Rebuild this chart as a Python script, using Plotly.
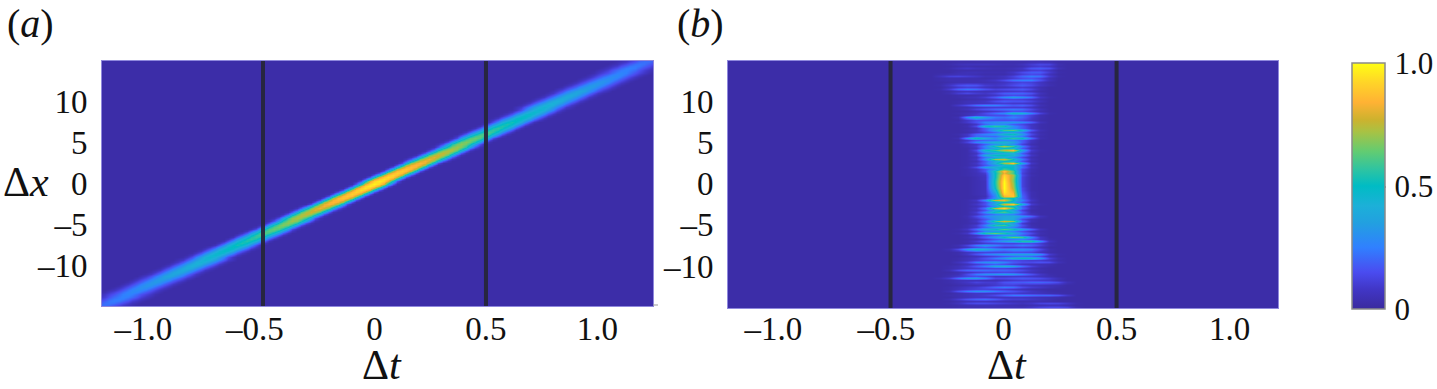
import numpy as np
import plotly.graph_objects as go

W, H = 1437, 389
FONT = "Liberation Serif"
FS = 33
BG = 2  # background level in percent of full scale

# Panel (a): band read across its width (percent): band centre first, then outward, one column per entry.
# One row per 0.25 in |dx|, from dx = 0 to 15. The band is treated as symmetric about the origin and its own ridge.
a_band_half = [
    [98,93,79,46,17,3,0],[97,92,79,46,16,3,0],[95,90,77,45,16,3,0],[94,89,76,44,16,3,0],[92,87,75,43,16,3,0],
    [91,86,74,43,15,3,0],[90,86,73,42,15,3,0],[89,85,72,42,15,3,0],[87,83,70,41,15,3,0],[86,82,70,40,15,3,0],
    [85,81,69,40,14,3,0],[83,78,65,42,18,6,1],[82,77,64,41,18,6,1],[80,75,62,40,18,6,1],[78,73,61,39,17,5,1],
    [76,71,59,38,17,5,1],[74,70,58,37,16,5,1],[73,69,57,37,16,5,1],[71,67,55,36,16,5,1],[69,65,54,35,15,5,1],
    [68,64,53,34,15,5,1],[66,62,51,33,15,5,1],[65,61,51,33,14,5,1],[63,59,48,33,18,7,2],[62,58,47,32,18,7,2],
    [60,56,46,31,17,7,2],[58,54,44,30,17,6,2],[57,53,43,30,17,6,2],[55,51,42,29,16,6,2],[54,50,41,28,16,6,2],
    [53,49,40,28,15,6,2],[51,47,38,28,17,8,3],[50,47,38,27,17,8,3],[49,46,37,26,16,8,3],[48,45,36,26,16,8,3],
    [47,44,35,25,16,8,3],[46,43,35,25,15,7,3],[45,42,34,26,17,9,5],[44,41,33,25,17,9,4],[43,40,33,25,16,9,4],
    [42,39,32,24,16,9,4],[41,38,31,23,16,9,4],[40,37,30,23,15,8,4],[39,36,30,22,15,8,4],[38,35,29,22,14,8,4],
    [37,35,29,22,15,9,5],[35,33,27,21,14,9,5],[34,32,27,20,14,9,4],[33,31,26,19,14,8,4],[32,30,25,19,13,8,4],
    [31,29,24,18,13,8,4],[30,28,23,18,12,8,4],[29,27,23,17,12,7,4],[28,26,22,17,12,8,4],[27,25,21,16,12,8,4],
    [26,24,21,16,11,7,4],[25,24,20,15,11,7,4],[24,23,19,15,10,7,4],[23,22,18,14,10,6,4],[22,21,17,13,9,6,4],
    [21,20,17,13,9,6,3],
]
a_dx = [-15 + 0.25 * i for i in range(121)]
a_t_step = 0.02049  # ridge column step: the band rises 12.2 in dx per unit dt
a_t = [(k - 66) * a_t_step for k in range(133)]

# Panel (b): streak values (percent), top row (dx = 15) first.
b_dx = [15 - 0.25 * i for i in range(121)]
b_t = [-0.28 + 0.04 * k for k in range(16)]
b_rows = [
    [2,2,2,2,3,3,3,3,3,3,3,3,2,2,2,2],[2,2,3,3,3,3,3,3,3,3,5,6,5,2,2,2],[2,3,5,6,6,6,5,4,4,6,10,13,12,4,2,2],
    [2,2,3,4,3,3,3,3,3,4,8,10,8,3,2,2],[2,3,6,8,6,5,4,4,5,8,16,18,15,5,2,2],[2,2,3,3,3,3,3,3,4,6,10,11,7,2,2,2],
    [2,2,4,5,5,4,4,4,8,14,18,18,10,3,2,2],[3,4,5,5,4,3,3,3,6,11,14,13,6,2,2,2],[6,11,12,10,8,5,5,7,12,20,24,22,10,3,2,2],
    [3,4,4,4,4,3,4,6,10,14,16,12,5,2,2,2],[3,4,4,4,4,5,8,14,22,25,25,16,6,2,2,2],[2,3,4,4,4,4,5,7,10,12,11,7,3,2,2,2],
    [3,8,14,17,16,10,8,10,14,18,14,8,4,2,2,2],[2,5,9,11,10,7,5,6,8,10,8,4,2,2,2,2],[3,10,20,24,22,16,12,14,16,18,13,5,2,2,2,2],
    [2,3,6,7,6,5,6,8,9,10,7,3,2,2,2,2],[2,4,10,13,10,8,12,18,20,20,16,6,2,2,2,2],[2,2,3,3,4,5,8,12,14,13,10,4,2,2,2,2],
    [2,2,3,5,6,10,18,28,34,30,22,8,3,2,2,2],[2,2,2,3,4,5,8,11,12,11,8,4,2,2,2,2],[2,2,3,5,6,8,14,18,16,16,12,6,2,2,2,2],
    [2,2,3,5,6,7,9,10,9,9,7,3,2,2,2,2],[2,2,8,14,22,26,26,22,18,20,14,5,2,2,2,2],[2,2,3,4,7,9,10,10,10,10,7,3,2,2,2,2],
    [2,2,3,6,12,16,20,22,24,22,14,6,2,2,2,2],[2,2,2,3,5,7,9,12,16,15,10,4,2,2,2,2],[2,2,3,5,8,14,22,28,46,42,26,12,3,2,2,2],
    [2,2,2,5,10,12,14,14,20,18,11,4,2,2,2,2],[2,2,4,28,46,34,24,22,26,20,10,4,2,2,2,2],[2,2,2,8,14,16,16,15,16,13,8,3,2,2,2,2],
    [2,2,3,9,16,26,30,32,32,28,20,6,2,2,2,2],[2,2,2,3,8,20,26,26,18,13,7,3,2,2,2,2],[2,2,2,4,14,46,56,52,30,18,8,3,2,2,2,2],
    [2,2,2,3,6,18,30,34,28,18,8,3,2,2,2,2],[2,2,2,4,8,18,36,58,62,44,18,5,2,2,2,2],[2,2,2,3,7,13,20,30,34,24,9,3,2,2,2,2],
    [2,2,3,8,20,26,32,46,52,34,14,4,2,2,2,2],[2,2,2,8,20,20,20,30,34,24,9,3,2,2,2,2],[2,2,4,28,52,40,30,46,56,50,22,4,2,2,2,2],
    [2,2,2,8,16,20,22,28,26,18,7,2,2,2,2,2],[2,2,3,12,26,34,44,44,36,18,6,2,2,2,2,2],[2,2,2,4,8,18,30,36,28,12,4,2,2,2,2,2],
    [2,2,2,4,10,28,54,72,58,26,8,2,2,2,2,2],[2,2,2,3,7,24,38,50,42,18,5,2,2,2,2,2],[2,2,2,3,14,46,58,74,84,38,10,3,2,2,2,2],
    [2,2,2,3,7,24,34,40,42,18,5,2,2,2,2,2],[2,2,2,3,10,40,50,50,44,26,8,2,2,2,2,2],[2,2,2,3,6,22,36,42,30,14,4,2,2,2,2,2],
    [2,2,2,3,8,30,70,76,50,24,6,2,2,2,2,2],[2,2,2,3,5,18,38,50,42,16,4,2,2,2,2,2],[2,2,2,3,8,20,42,70,86,38,8,2,2,2,2,2],
    [2,2,2,3,6,16,30,44,46,18,4,2,2,2,2,2],[2,2,2,4,14,34,44,50,48,22,6,2,2,2,2,2],[2,2,2,3,6,16,36,60,48,14,4,2,2,2,2,2],
    [2,2,2,3,6,16,52,88,60,14,4,2,2,2,2,2],[2,2,2,3,5,10,50,82,60,12,3,2,2,2,2,2],[2,2,2,3,5,8,50,92,72,14,4,2,2,2,2,2],
    [2,2,2,2,4,7,50,95,70,12,3,2,2,2,2,2],[2,2,2,2,4,7,52,97,68,12,3,2,2,2,2,2],[2,2,2,2,4,6,54,99,68,12,3,2,2,2,2,2],
    [2,2,2,2,4,6,54,100,70,12,3,2,2,2,2,2],[2,2,2,2,4,6,52,100,72,12,3,2,2,2,2,2],[2,2,2,2,4,6,50,100,74,14,3,2,2,2,2,2],
    [2,2,2,2,4,6,44,98,78,14,3,2,2,2,2,2],[2,2,2,2,4,6,38,96,82,16,4,2,2,2,2,2],[2,2,2,2,4,6,32,92,86,18,4,2,2,2,2,2],
    [2,2,2,2,3,5,28,84,88,20,4,2,2,2,2,2],[2,2,2,2,3,8,30,56,50,20,5,2,2,2,2,2],[2,2,2,3,8,28,76,82,50,26,8,2,2,2,2,2],
    [2,2,2,3,5,14,34,50,42,18,5,2,2,2,2,2],[2,2,2,3,8,16,40,78,88,42,10,3,2,2,2,2],[2,2,2,3,5,12,30,54,50,18,4,2,2,2,2,2],
    [2,2,2,3,8,24,74,92,60,22,5,2,2,2,2,2],[2,2,2,3,6,16,40,50,36,12,3,2,2,2,2,2],[2,2,2,3,10,28,52,60,44,18,4,2,2,2,2,2],
    [2,2,2,3,7,17,24,30,26,14,6,2,2,2,2,2],[2,2,2,4,14,26,34,38,40,30,20,6,2,2,2,2],[2,2,2,3,7,16,30,40,38,14,5,2,2,2,2,2],
    [2,2,2,3,8,22,58,78,68,22,5,2,2,2,2,2],[2,2,2,3,5,16,34,44,34,10,3,2,2,2,2,2],[2,2,2,4,10,26,54,60,38,16,4,2,2,2,2,2],
    [2,2,2,4,9,20,30,36,26,12,5,2,2,2,2,2],[2,2,3,8,22,40,48,62,52,34,20,6,2,2,2,2],[2,2,2,4,12,26,32,32,26,16,8,3,2,2,2,2],
    [2,2,3,8,26,54,64,54,40,24,14,4,2,2,2,2],[2,2,2,3,7,14,20,26,28,18,9,3,2,2,2,2],[2,2,2,4,10,20,32,50,64,58,28,8,2,2,2,2],
    [2,2,2,3,5,10,17,22,24,26,18,8,3,2,2,2],[2,2,2,4,10,18,26,34,42,54,54,30,6,2,2,2],[2,2,2,3,6,10,12,12,12,14,14,10,3,2,2,2],
    [2,2,4,12,24,32,26,20,20,24,20,12,4,2,2,2],[2,2,3,8,14,18,14,10,10,12,10,6,2,2,2,2],[2,4,14,32,46,40,30,26,30,30,26,14,4,2,2,2],
    [2,2,3,7,10,12,12,12,14,14,13,7,3,2,2,2],[2,2,3,8,16,24,30,34,36,36,36,30,10,3,2,2],[2,2,2,4,6,9,12,16,20,22,20,14,5,2,2,2],
    [2,2,3,6,10,16,24,32,44,48,46,32,12,4,2,2],[2,2,3,6,10,13,14,14,14,12,10,10,7,3,2,2],[2,2,6,12,24,30,32,26,18,14,14,16,14,5,2,2],
    [2,2,3,6,10,14,18,15,11,8,6,5,4,2,2,2],[2,3,5,10,18,26,38,42,36,22,12,6,3,2,2,2],[2,3,5,8,10,11,12,12,10,8,5,3,2,2,2,2],
    [2,5,14,20,22,22,20,20,18,14,8,4,2,2,2,2],[2,2,4,7,10,12,12,13,12,9,6,3,2,2,2,2],[2,3,5,14,24,30,32,34,32,24,16,8,3,2,2,2],
    [2,4,8,12,14,12,8,8,9,9,8,6,4,2,2,2],[4,10,22,32,34,26,14,14,16,18,16,14,10,5,2,2],[2,3,5,6,6,5,5,7,9,10,10,9,8,4,2,2],
    [2,3,5,8,12,10,10,16,18,18,20,20,18,14,5,2],[2,2,3,4,5,6,9,11,11,8,7,6,5,4,2,2],[2,3,5,8,10,14,20,24,22,14,10,8,5,3,2,2],
    [2,3,6,9,11,12,11,10,8,6,4,3,2,2,2,2],[2,5,16,24,30,30,24,20,16,12,8,5,3,2,2,2],[2,2,4,6,8,8,8,9,10,8,7,6,4,3,2,2],
    [2,3,4,6,8,10,14,20,24,24,22,20,20,16,8,2],[2,2,4,6,8,8,7,7,7,7,6,5,4,3,2,2],[2,4,10,16,20,22,18,12,10,10,8,6,4,2,2,2],
    [2,2,4,6,7,7,6,5,4,4,4,4,3,2,2,2],[2,3,6,12,14,14,12,10,8,6,8,12,13,12,8,3],[2,2,3,4,5,5,5,4,4,3,4,5,6,6,4,2],
    [2,2,3,4,4,5,5,5,5,5,8,12,14,14,12,4],
]

marker_t = [-0.5, 0.5]
x_ticks = [-1.0, -0.5, 0, 0.5, 1.0]
a_xlabels = ["–1.0\u00a0\u00a0", "–0.5\u00a0\u00a0", "0", "0.5", "1.0"]
b_xlabels = ["–1.0\u00a0", "–0.5\u00a0", "0", "0.5", "1.0"]
y_ticks = [-10, -5, 0, 5, 10]
y_labels = ["–10", "–5", "0", "5", "10"]
cbar_ticks = [0, 0.5, 1]
cbar_labels = ["0", "0.5", "1.0"]

colorscale = [
    [0, "#3a2a9e"], [0.08, "#4136c6"], [0.15, "#4a4cf0"], [0.25, "#3080ff"], [0.35, "#22a0e0"],
    [0.42, "#1cb0d8"], [0.5, "#00bcc4"], [0.57, "#30c4a0"], [0.64, "#62cc72"], [0.72, "#a8c244"],
    [0.77, "#cdb22e"], [0.84, "#ffb234"], [0.92, "#ffd428"], [1, "#ffff14"],
]

# Expand the tables into the full grids
a_z = np.full((len(a_dx), len(a_t)), BG / 100)
for i in range(len(a_dx)):
    half = a_band_half[abs(i - 60)]
    profile = half[:0:-1] + half
    a_z[i, i: i + 13] = np.maximum(np.array(profile) / 100, BG / 100)

b_t_full = [-1.3, -0.32] + b_t + [0.36, 1.3]
b_z = [[BG / 100, BG / 100] + [v / 100 for v in row] + [BG / 100, BG / 100] for row in b_rows]


def px(x):
    return x / W


def py(y):
    return 1 - y / H


fig = go.Figure()
fig.add_trace(go.Heatmap(x=a_t, y=a_dx, z=a_z, coloraxis="coloraxis", zsmooth="best", xaxis="x", yaxis="y", hoverinfo="skip"))
fig.add_trace(go.Heatmap(x=b_t_full, y=b_dx, z=b_z, coloraxis="coloraxis", zsmooth="best", xaxis="x2", yaxis="y2", hoverinfo="skip"))

LINE = "rgba(38,38,58,0.95)"
shapes = []
for xref, yref in (("x", "y"), ("x2", "y2")):
    for t in marker_t:
        shapes.append(dict(type="line", xref=xref, yref=f"{yref} domain", x0=t, x1=t, y0=0, y1=1,
                           line=dict(color=LINE, width=4), layer="above"))
shapes.append(dict(type="line", xref="paper", yref="paper", x0=px(653), x1=px(658), y0=py(305), y1=py(305),
                   line=dict(color="#999999", width=1)))
shapes.append(dict(type="line", xref="paper", yref="paper", x0=px(1383), x1=px(1386), y0=py(187), y1=py(187),
                   line=dict(color="#444444", width=1)))

common_x = dict(tickmode="array", tickvals=x_ticks, ticks="", showgrid=False, zeroline=False, showline=True,
                linecolor="#8f88dd", linewidth=1, mirror=True, tickfont=dict(family=FONT, size=FS, color="#111111"))
common_y = dict(tickmode="array", tickvals=y_ticks, ticktext=y_labels, ticks="outside", ticklen=7, tickcolor="rgba(0,0,0,0)",
                showgrid=False, zeroline=False, showline=True, linecolor="#8f88dd", linewidth=1, mirror=True,
                tickfont=dict(family=FONT, size=FS, color="#111111"))

annotations = []
for text, x, y, size in (
    ("(<i>a</i>)", 31, 24, 40), ("(<i>b</i>)", 700, 24, 40),
    ("Δ<i>x</i>", 26, 182, 42), ("Δ<i>t</i>", 382, 365, 42), ("Δ<i>t</i>", 1007, 365, 42),
):
    annotations.append(dict(text=text, xref="paper", yref="paper", x=px(x), y=py(y), showarrow=False,
                            xanchor="center", yanchor="middle", font=dict(family=FONT, size=size, color="#111111")))

fig.update_layout(
    width=W, height=H, margin=dict(l=0, r=0, t=0, b=0, autoexpand=False), paper_bgcolor="white", plot_bgcolor="white", showlegend=False,
    xaxis=dict(common_x, domain=[px(102), px(653)], range=[-1.222, 1.249], ticktext=a_xlabels, anchor="y", ticklabelstandoff=-7),
    yaxis=dict(common_y, domain=[py(306), py(61)], range=[-14.9, 14.9], anchor="x"),
    xaxis2=dict(common_x, domain=[px(728), px(1278)], range=[-1.219, 1.214], ticktext=b_xlabels, anchor="y2", ticklabelstandoff=-9),
    yaxis2=dict(common_y, domain=[py(308), py(61)], range=[-15.1, 14.85], anchor="x2"),
    coloraxis=dict(cmin=0, cmax=1, colorscale=colorscale, colorbar=dict(
        x=px(1352), xanchor="left", xpad=0, ypad=0, y=py(309), yanchor="bottom", lenmode="pixels", len=246,
        thicknessmode="pixels", thickness=33, outlinecolor="#8a8a8a", outlinewidth=1.5, borderwidth=0,
        tickmode="array", tickvals=cbar_ticks, ticktext=cbar_labels, ticks="outside", ticklen=3, tickcolor="rgba(0,0,0,0)",
        tickfont=dict(family=FONT, size=31, color="#111111"))),
    shapes=shapes, annotations=annotations,
)

fig.write_html("out.html", config=dict(displayModeBar=False), post_script="document.body.style.margin='0';")
